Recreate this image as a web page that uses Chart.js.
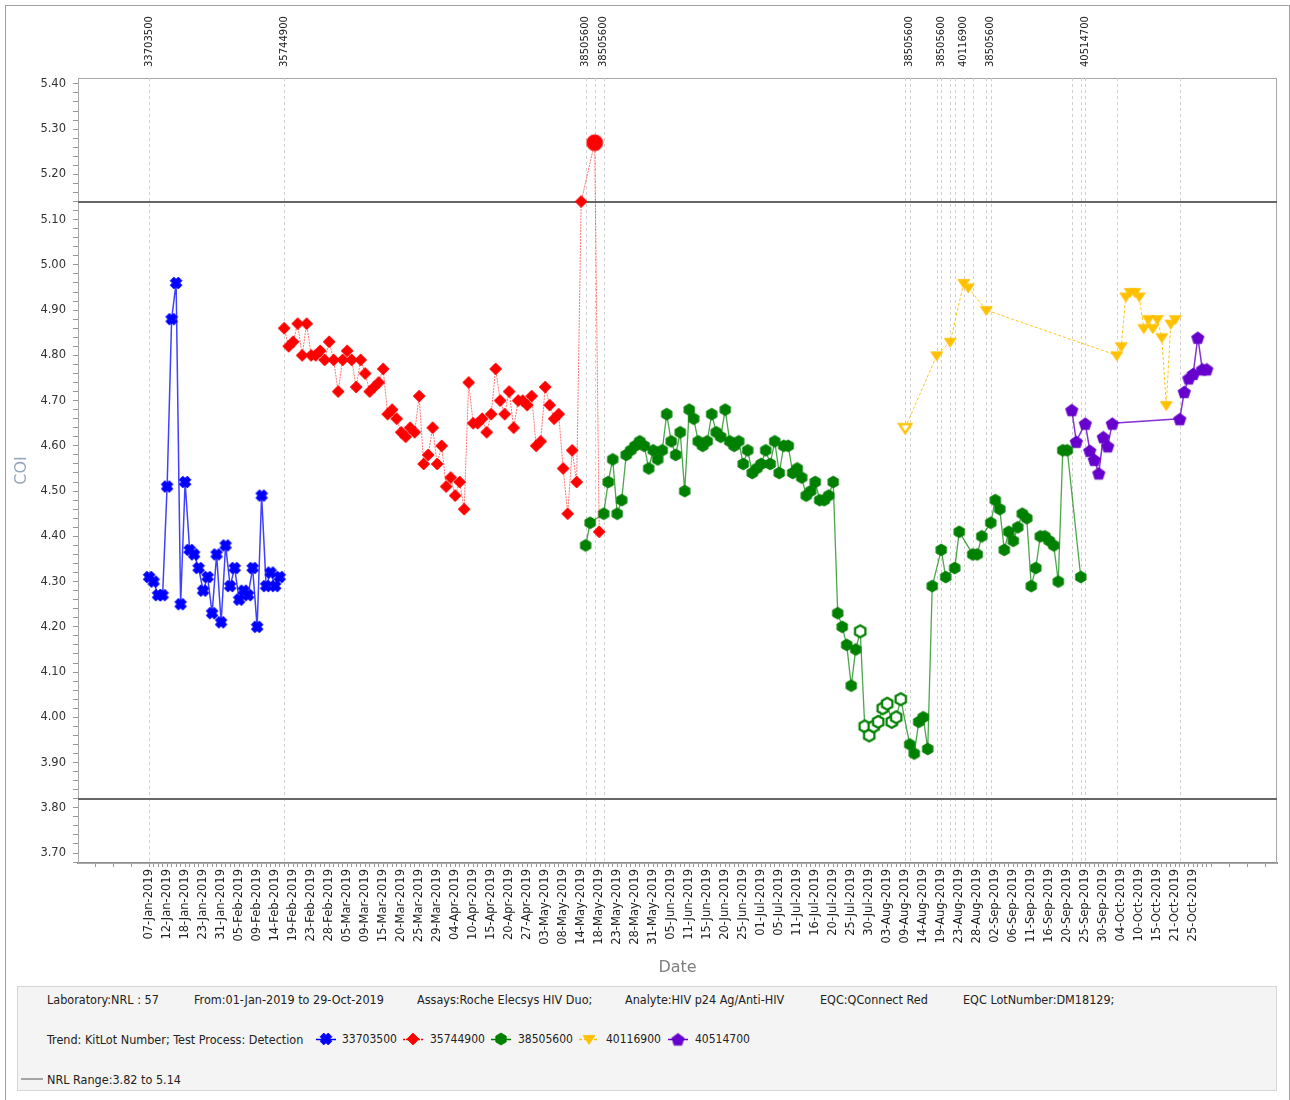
<!DOCTYPE html>
<html>
<head>
<meta charset="utf-8">
<script src="https://cdn.jsdelivr.net/npm/chart.js@4.4.1/dist/chart.umd.min.js"></script>
<style>
  body { margin: 0; background: #fff; font-family: "DejaVu Sans", sans-serif; }
  #frame { position: absolute; left: 5px; top: 5px; width: 1283px; height: 1100px; border: 1px solid #a0a0a0; }
  #wrap { position: absolute; left: 0; top: 0; width: 1290px; height: 985px; }
  #footer { position: absolute; left: 17px; top: 986px; width: 1258px; height: 103px; background: #f4f4f4;
            border: 1px solid #d6d6d6; font-family: "DejaVu Sans Condensed", "DejaVu Sans", sans-serif;
            font-stretch: condensed; font-size: 12.5px; color: #222; }
  #footer span, #footer canvas { position: absolute; white-space: nowrap; transform: translateY(-50%); }
  #footer .lot { font-size: 12px; }
</style>
</head>
<body>
<div id="frame"></div>
<div id="wrap"><canvas id="chart" width="1290" height="985"></canvas></div>
<div id="footer">
  <span style="left:29px;top:12px">Laboratory:NRL : 57</span>
  <span style="left:176px;top:12px">From:01-Jan-2019 to 29-Oct-2019</span>
  <span style="left:399px;top:12px">Assays:Roche Elecsys HIV Duo;</span>
  <span style="left:607px;top:12px">Analyte:HIV p24 Ag/Anti-HIV</span>
  <span style="left:802px;top:12px">EQC:QConnect Red</span>
  <span style="left:945px;top:12px">EQC LotNumber:DM18129;</span>
  <span style="left:29px;top:52px">Trend: KitLot Number; Test Process: Detection</span>
  <span style="left:3px;top:92px;width:22px;height:0;border-top:1px solid #555"></span>
  <span style="left:29px;top:92px">NRL Range:3.82 to 5.14</span>
</div>
<script>
// x labels: date of every 4th run
const tickDates = ["07-Jan-2019","12-Jan-2019","18-Jan-2019","23-Jan-2019","31-Jan-2019",
  "05-Feb-2019","09-Feb-2019","14-Feb-2019","19-Feb-2019","23-Feb-2019","28-Feb-2019",
  "05-Mar-2019","09-Mar-2019","15-Mar-2019","20-Mar-2019","25-Mar-2019","29-Mar-2019",
  "04-Apr-2019","10-Apr-2019","15-Apr-2019","20-Apr-2019","27-Apr-2019",
  "03-May-2019","08-May-2019","14-May-2019","18-May-2019","23-May-2019","28-May-2019","31-May-2019",
  "05-Jun-2019","11-Jun-2019","15-Jun-2019","20-Jun-2019","25-Jun-2019",
  "01-Jul-2019","05-Jul-2019","11-Jul-2019","16-Jul-2019","20-Jul-2019","25-Jul-2019","30-Jul-2019",
  "03-Aug-2019","09-Aug-2019","14-Aug-2019","19-Aug-2019","23-Aug-2019","28-Aug-2019",
  "02-Sep-2019","06-Sep-2019","11-Sep-2019","16-Sep-2019","20-Sep-2019","25-Sep-2019","30-Sep-2019",
  "04-Oct-2019","10-Oct-2019","15-Oct-2019","21-Oct-2019","25-Oct-2019"];

// run number (order of QC runs) and COI per kit lot
const blueRuns = [0,1,2,3,4,5,6,7,8,9,10,11,12,13,14,15,16,17,18,19,20,21,22,23,24,25,26,27,28,29];
const blueCoi = [4.31,4.30,4.27,4.27,4.51,4.88,4.96,4.25,4.52,4.37,4.36,4.33,4.28,4.31,4.23,
  4.36,4.21,4.38,4.29,4.33,4.26,4.28,4.27,4.33,4.20,4.49,4.29,4.32,4.29,4.31];

const redRuns = [30,31,32,33,34,35,36,37,38,39,40,41,42,43,44,45,46,47,48,49,
  50,51,52,53,54,55,56,57,58,59,60,61,62,63,64,65,66,67,68,69,
  70,71,72,73,74,75,76,77,78,79,80,81,82,83,84,85,86,87,88,89,
  90,91,92,93,94,95,96,99,100];
const redCoi = [4.86,4.82,4.83,4.87,4.80,4.87,4.80,4.80,4.81,4.79,
  4.83,4.79,4.72,4.79,4.81,4.79,4.73,4.79,4.76,4.72,
  4.73,4.74,4.77,4.67,4.68,4.66,4.63,4.62,4.64,4.63,
  4.71,4.56,4.58,4.64,4.56,4.60,4.51,4.53,4.49,4.52,
  4.46,4.74,4.65,4.65,4.66,4.63,4.67,4.77,4.70,4.67,
  4.72,4.64,4.70,4.70,4.69,4.71,4.60,4.61,4.73,4.69,
  4.66,4.67,4.55,4.45,4.59,4.52,5.14,5.27,4.41];

const greenRuns = [97,98,101,102,103,104,105,106,107,108,109,110,111,112,113,114,115,116,117,118,
  119,120,121,122,123,124,125,126,127,128,129,130,131,132,133,134,135,136,137,138,
  139,140,141,142,143,144,145,146,147,148,149,150,151,152,153,154,155,156,157,158,
  159,160,161,162,163,164,165,166,167,169,170,171,172,173,174,176,177,179,180,
  183,184,185,187,188,189,190,191,192,193,194,195,196,197,198,199,200,201,202,203,204,207];
const greenCoi = [4.38,4.43,4.45,4.52,4.57,4.45,4.48,4.58,4.59,4.60,4.61,4.60,4.55,4.59,4.57,4.59,4.67,4.61,4.58,4.63,
  4.50,4.68,4.66,4.61,4.60,4.61,4.67,4.63,4.62,4.68,4.61,4.60,4.61,4.56,4.59,4.54,4.55,4.56,4.59,4.56,
  4.61,4.54,4.60,4.60,4.54,4.55,4.53,4.49,4.50,4.52,4.48,4.48,4.49,4.52,4.23,4.20,4.16,4.07,4.15,4.19,
  3.98,3.96,3.98,3.99,4.02,4.03,3.99,4.00,4.04,3.94,3.92,3.99,4.00,3.93,4.29,4.37,4.31,4.33,4.41,
  4.36,4.36,4.40,4.43,4.48,4.46,4.37,4.41,4.39,4.42,4.45,4.44,4.29,4.33,4.40,4.40,4.39,4.38,4.30,4.59,4.59,4.31];

const yellowRuns = [168,175,178,181,182,186,215,216,217,218,219,220,221,222,223,224,225,226,227,228];
const yellowCoi = [4.64,4.80,4.83,4.96,4.95,4.90,4.80,4.82,4.93,4.94,4.94,4.93,4.86,4.88,4.86,4.88,4.84,4.69,4.87,4.88];

const purpleRuns = [205,206,208,209,210,211,212,213,214,229,230,231,232,233,234,235];
const purpleCoi = [4.68,4.61,4.65,4.59,4.57,4.54,4.62,4.60,4.65,4.66,4.72,4.75,4.76,4.84,4.77,4.77];

const excludedRuns = [158,159,160,161,162,163,164,165,166,167,168];
const outlierRuns = [99];
const labelledRuns = [0,30,97,101,169,176,181,187,208];
const nrlLow = 3.82;
const nrlHigh = 5.14;

// marker images
function makeMarker(shape, color, size, hollow) {
  const pad = 2;
  const c = document.createElement("canvas");
  c.width = c.height = size + pad * 2;
  const g = c.getContext("2d");
  const cx = c.width / 2, cy = c.height / 2, r = size / 2;
  let pts = [];
  if (shape === "cross") {
    const R = r * 0.86, a = R * 0.45;
    const base = [[-a,-R],[a,-R],[a,-a],[R,-a],[R,a],[a,a],[a,R],[-a,R],[-a,a],[-R,a],[-R,-a],[-a,-a]];
    const k = Math.SQRT1_2 * 1.12;
    pts = base.map(([x, y]) => [cx + (x - y) * k, cy + (x + y) * k]);
  } else if (shape === "diamond") {
    pts = [[cx, cy - r], [cx + r, cy], [cx, cy + r], [cx - r, cy]];
  } else if (shape === "hexagon") {
    for (let i = 0; i < 6; i++) { const t = -Math.PI / 2 + i * Math.PI / 3; pts.push([cx + r * Math.cos(t), cy + r * Math.sin(t)]); }
  } else if (shape === "pentagon") {
    for (let i = 0; i < 5; i++) { const t = -Math.PI / 2 + i * 2 * Math.PI / 5; pts.push([cx + r * Math.cos(t), cy + 1 + r * Math.sin(t)]); }
  } else if (shape === "triangleDown") {
    pts = [[cx - r, cy - r * 0.6], [cx + r, cy - r * 0.6], [cx, cy + r * 0.9]];
  }
  g.beginPath();
  if (shape === "circle") g.arc(cx, cy, r, 0, Math.PI * 2);
  else { g.moveTo(pts[0][0], pts[0][1]); pts.slice(1).forEach(p => g.lineTo(p[0], p[1])); g.closePath(); }
  if (hollow) {
    g.fillStyle = "#fff"; g.fill();
    g.lineWidth = 2.2; g.strokeStyle = color; g.stroke();
  } else {
    g.fillStyle = color; g.fill();
    g.lineWidth = 0.8; g.strokeStyle = color; g.stroke();
  }
  return c;
}

const lots = [
  { lot: "33703500", runs: blueRuns, coi: blueCoi, color: "#0000ff", line: "rgba(0,0,255,0.75)", width: 1.5, dash: [], shape: "cross", size: 12 },
  { lot: "35744900", runs: redRuns, coi: redCoi, color: "#ff0000", line: "rgba(255,0,0,0.55)", width: 1, dash: [2, 1], shape: "diamond", size: 12 },
  { lot: "38505600", runs: greenRuns, coi: greenCoi, color: "#008000", line: "rgba(0,128,0,0.7)", width: 1.3, dash: [], shape: "hexagon", size: 12 },
  { lot: "40116900", runs: yellowRuns, coi: yellowCoi, color: "#ffc000", line: "rgba(255,192,0,0.9)", width: 1, dash: [3, 2], shape: "triangleDown", size: 12 },
  { lot: "40514700", runs: purpleRuns, coi: purpleCoi, color: "#6600cc", line: "rgba(102,0,204,0.8)", width: 1.5, dash: [], shape: "pentagon", size: 13 }
];

// lot of each run, and the runs where the lot changes
const runLot = {};
lots.forEach(s => s.runs.forEach(r => { runLot[r] = s.lot; }));
const allRuns = Object.keys(runLot).map(Number).sort((a, b) => a - b);
const lotChanges = allRuns.filter((r, i) => i === 0 || runLot[r] !== runLot[allRuns[i - 1]]);

const datasets = lots.map(s => {
  const normal = makeMarker(s.shape, s.color, s.size, false);
  const open = makeMarker(s.shape, s.color, s.size, true);
  const big = makeMarker("circle", s.color, 16, false);
  return {
    label: s.lot,
    data: s.runs.map((r, i) => ({ x: r, y: s.coi[i] })),
    borderColor: s.line,
    borderWidth: s.width,
    borderDash: s.dash,
    backgroundColor: s.color,
    pointStyle: s.runs.map(r => outlierRuns.includes(r) ? big : excludedRuns.includes(r) ? open : normal),
    pointRadius: 5,
    tension: 0
  };
});

const tickFont = { family: "DejaVu Sans", size: 11.5 };

const decorations = {
  id: "decorations",
  beforeDatasetsDraw(chart) {
    const { ctx, chartArea: a, scales: { x, y } } = chart;
    ctx.save();
    ctx.strokeStyle = "#a8a8a8"; ctx.lineWidth = 1;
    ctx.strokeRect(a.left + 0.5, a.top + 0.5, a.right - a.left - 1, a.bottom - a.top);
    ctx.strokeStyle = "#cfcfcf"; ctx.setLineDash([3, 3]);
    lotChanges.forEach(r => {
      const px = Math.round(x.getPixelForValue(r)) + 0.5;
      ctx.beginPath(); ctx.moveTo(px, a.top); ctx.lineTo(px, a.bottom); ctx.stroke();
    });
    ctx.setLineDash([]);
    ctx.strokeStyle = "#666"; ctx.lineWidth = 2;
    [nrlLow, nrlHigh].forEach(v => {
      const py = Math.round(y.getPixelForValue(v));
      ctx.beginPath(); ctx.moveTo(a.left, py); ctx.lineTo(a.right, py); ctx.stroke();
    });
    ctx.restore();
  },
  afterDraw(chart) {
    const { ctx, chartArea: a, scales: { x } } = chart;
    ctx.save();
    ctx.fillStyle = "#222";
    ctx.font = "10px 'DejaVu Sans'";
    ctx.textAlign = "left"; ctx.textBaseline = "middle";
    labelledRuns.forEach(r => {
      ctx.save();
      ctx.translate(x.getPixelForValue(r), a.top - 11);
      ctx.rotate(-Math.PI / 2);
      ctx.fillText(runLot[r], 0, 0);
      ctx.restore();
    });
    ctx.restore();
  }
};

new Chart(document.getElementById("chart"), {
  type: "line",
  data: { datasets },
  options: {
    responsive: false,
    animation: false,
    layout: { padding: { left: 0, right: 13, top: 78, bottom: 0 } },
    plugins: { legend: { display: false }, tooltip: { enabled: false } },
    scales: {
      x: {
        type: "linear", min: -15.8, max: 250.6,
        afterBuildTicks(scale) {
          const t = [];
          for (let v = -12; v <= 248; v += 4) t.push(v);
          allRuns.forEach(r => { if (!t.includes(r)) t.push(r); });
          scale.ticks = t.sort((a, b) => a - b).map(v => ({ value: v }));
        },
        afterFit(scale) { scale.height = 122; },
        ticks: {
          autoSkip: false, minRotation: 90, maxRotation: 90, padding: 2, color: "#222", font: tickFont,
          callback: v => (v % 4 === 0 && v >= 0 && v / 4 < tickDates.length) ? tickDates[v / 4] : ""
        },
        grid: { drawOnChartArea: false, tickLength: 4, color: "#999" },
        border: { color: "#8c8c8c", width: 2 },
        title: { display: true, text: "Date", color: "#808080", font: { family: "DejaVu Sans", size: 16 }, padding: { top: 0, bottom: 8 } }
      },
      y: {
        min: 3.678, max: 5.413,
        afterBuildTicks(scale) {
          const t = [];
          for (let k = 184; k <= 270; k++) t.push({ value: k / 50 });
          scale.ticks = t;
        },
        afterFit(scale) { scale.width = 78; },
        ticks: {
          autoSkip: false, padding: 7, color: "#333", font: tickFont,
          callback: v => Math.round(v * 100) % 10 === 0 ? v.toFixed(2) : ""
        },
        grid: { drawOnChartArea: false, tickLength: 5, color: "#999" },
        border: { color: "#a8a8a8" },
        title: { display: true, text: "COI", color: "#98a6bb", font: { family: "DejaVu Sans", size: 16 }, padding: { top: 12, bottom: 0 } }
      }
    }
  },
  plugins: [decorations]
});

// footer legend markers
const legendPos = [{ m: 308, t: 324 }, { m: 395, t: 412 }, { m: 483, t: 500 }, { m: 571, t: 588 }, { m: 660, t: 677 }];
const footer = document.getElementById("footer");
lots.forEach((s, i) => {
  const c = document.createElement("canvas");
  c.width = 20; c.height = 16;
  const g = c.getContext("2d");
  g.strokeStyle = s.color; g.lineWidth = 1.5; g.setLineDash(s.dash);
  g.beginPath(); g.moveTo(0, 8.5); g.lineTo(20, 8.5); g.stroke();
  const mk = makeMarker(s.shape, s.color, s.size, false);
  g.drawImage(mk, 10 - mk.width / 2, 8 - mk.height / 2);
  c.style.left = (legendPos[i].m - 10) + "px"; c.style.top = "52px";
  footer.appendChild(c);
  const sp = document.createElement("span");
  sp.className = "lot";
  sp.textContent = s.lot;
  sp.style.left = legendPos[i].t + "px"; sp.style.top = "52px";
  footer.appendChild(sp);
});
</script>
</body>
</html>
